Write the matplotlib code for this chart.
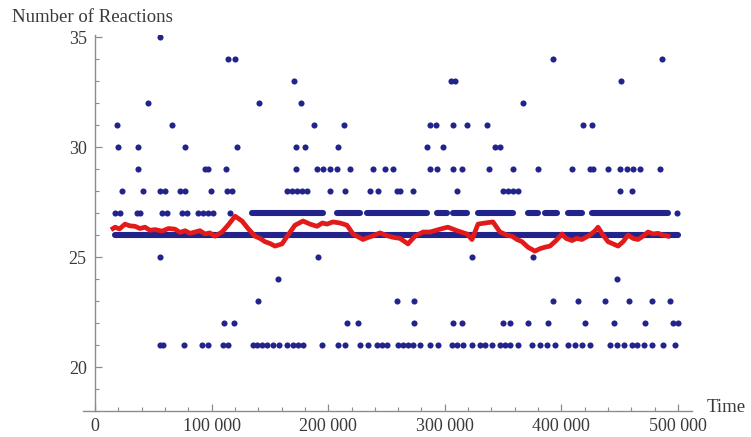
import matplotlib
matplotlib.use("Agg")
import matplotlib.pyplot as plt
from matplotlib.ticker import MultipleLocator, FuncFormatter

# sampled reaction counts: each list holds the times at which that count was seen
t35 = [55700]
t34 = [114100, 120100, 392800, 486300]
t33 = [170700, 305300, 308700, 451100]
t32 = [45500, 140600, 176700, 367000]
t31 = [18900, 66000, 187800, 213500, 287300, 292400, 307000, 319000, 336200,
       418500, 426200]
t30 = [19700, 36900, 77200, 121800, 172400, 180100, 208400, 284700, 298400,
       343000, 347300]
t29 = [36900, 94300, 96900, 112300, 172400, 190400, 195500, 201500, 207500,
       218700, 238400, 248700, 255600, 287300, 293300, 307000, 314700, 337900,
       358500, 380000, 409100, 424500, 427100, 440000, 450200, 456200, 461400,
       467400, 484500]
t28 = [23200, 41200, 55700, 60000, 72900, 77200, 99500, 113200, 117500, 164700,
       168900, 173200, 177500, 181800, 201500, 214400, 235800, 242700, 259000,
       261600, 272700, 310500, 349900, 354200, 358500, 362800, 450200, 460500]
t27 = [17200, 21400, 36000, 38600, 57500, 61700, 74600, 78900, 88300, 92600,
       96900, 101200, 115800, 499100]
runs27 = [(134600, 195500), (207500, 227300), (233300, 284700), (293300, 301900),
          (307000, 319000), (328500, 358500), (371300, 380000), (385900, 396200),
          (405700, 417600), (426200, 491400)]
runs26 = [(17000, 500000)]
t25 = [55700, 191300, 323300, 375600]
t24 = [157000, 447700]
t23 = [139800, 259000, 273600, 392800, 414200, 437400, 458000, 477700, 493100]
t22 = [110600, 119200, 216100, 225500, 273600, 307000, 314700, 350000, 356000,
       371300, 388500, 420200, 445000, 471700, 496000, 500000]
t21 = [55700, 58300, 76300, 91800, 96900, 109800, 114100, 135500, 138900,
       143200, 147500, 152700, 157800, 164700, 169800, 174100, 178400, 194700,
       208400, 214400, 227300, 234100, 241800, 246100, 250400, 259900, 264100,
       268400, 272700, 278700, 287300, 294200, 306200, 310500, 315600, 323300,
       330200, 334500, 340500, 347300, 351600, 356000, 362800, 374800, 381600,
       387600, 394500, 405700, 411600, 417600, 424500, 441700, 447700, 453700,
       460500, 464800, 470800, 477700, 487100, 497400]

# running average (red)
avg_t = [15400, 17200, 21000, 25700, 30000, 34300, 38500, 42900, 47000, 51500,
         57500, 63000, 68600, 73000, 77200, 81500, 85800, 90000, 94300, 98500,
         102900, 108900, 114100, 120100, 126100, 131200, 137200, 141500, 145800,
         150000, 154400, 160400, 165500, 171500, 178400, 184400, 190400, 195000,
         199000, 204100, 210100, 216100, 221300, 229800, 233500, 237600, 244400,
         250000, 255600, 261600, 268400, 274400, 281300, 287300, 293300, 298000,
         302700, 310500, 319000, 323300, 328500, 334500, 341300, 347300, 353300,
         357600, 361900, 366200, 371300, 377300, 381500, 385900, 390200, 395400,
         400500, 404000, 409100, 413000, 417600, 424500, 428900, 431400, 435700,
         440000, 444300, 448600, 452900, 457200, 461400, 465700, 470000, 474300,
         478600, 482900, 487100, 491400]
avg_v = [26.3, 26.36, 26.28, 26.5, 26.42, 26.4, 26.3, 26.36, 26.22, 26.25,
         26.18, 26.3, 26.27, 26.12, 26.2, 26.08, 26.14, 26.2, 26.05, 26.1,
         25.95, 26.14, 26.45, 26.86, 26.64, 26.3, 25.95, 25.85, 25.7,
         25.62, 25.5, 25.6, 26.0, 26.45, 26.64, 26.5, 26.4, 26.55,
         26.5, 26.6, 26.55, 26.45, 26.05, 25.8, 25.88, 25.95, 26.1,
         25.98, 25.9, 25.85, 25.6, 25.95, 26.14, 26.14, 26.23, 26.3,
         26.36, 26.2, 26.05, 25.8, 26.5, 26.55, 26.6, 26.14, 26.0,
         25.95, 25.8, 25.7, 25.45, 25.27, 25.38, 25.45, 25.5, 25.75,
         26.05, 25.85, 25.75, 25.85, 25.8, 26.0, 26.2, 26.36, 26.0,
         25.7, 25.6, 25.5, 25.7, 26.0, 25.85, 25.8, 25.95, 26.14,
         26.05, 26.08, 26.0, 25.95]

singles = [(35, t35), (34, t34), (33, t33), (32, t32), (31, t31), (30, t30),
           (29, t29), (28, t28), (27, t27), (25, t25), (24, t24), (23, t23),
           (22, t22), (21, t21)]
runs = [(27, runs27), (26, runs26)]

DOT = '#23238c'
AXIS = '#8c8c8c'
TXT = '#3a3a3a'
SERIF = ['Liberation Serif', 'DejaVu Serif']
dot_pt = 4.4

fig = plt.figure(figsize=(7.51, 4.37), dpi=100)
ax = fig.add_axes([83 / 751, 1 - 411 / 437, (692 - 83) / 751, (411 - 35) / 437])

for level, times in singles:
    ax.scatter(times, [level] * len(times), s=dot_pt ** 2, color=DOT,
               linewidths=0, zorder=2)
for level, segs in runs:
    lc = ax.hlines([level] * len(segs), [a for a, b in segs], [b for a, b in segs],
                   colors=DOT, linewidth=dot_pt, zorder=2)
    lc.set_capstyle('round')

ax.plot(avg_t, avg_v, color='#e31a1a', lw=3.4, solid_joinstyle='round', zorder=3)

ax.set_xlim(-10300, 512000)
ax.set_ylim(18.0, 35.1)

for s in ('top', 'right'):
    ax.spines[s].set_visible(False)
ax.spines['left'].set_position(('data', 0))
for s in ('left', 'bottom'):
    ax.spines[s].set_color(AXIS)
    ax.spines[s].set_linewidth(1.0)

ax.xaxis.set_major_locator(MultipleLocator(100000))
ax.xaxis.set_minor_locator(MultipleLocator(20000))
ax.yaxis.set_minor_locator(MultipleLocator(1))
ax.set_yticks([20, 25, 30, 35])


def fmt_x(v, pos):
    v = int(round(v))
    if v == 0:
        return '0'
    return f'{v:,}'.replace(',', ' ')


ax.xaxis.set_major_formatter(FuncFormatter(fmt_x))
ax.tick_params(which='major', direction='in', length=5, width=0.9, color=AXIS,
               labelsize=13, labelcolor=TXT)
ax.tick_params(which='minor', direction='in', length=3, width=0.8, color=AXIS)
ax.tick_params(axis='x', which='major', pad=5)
ax.tick_params(axis='y', which='major', pad=6)
for lab in ax.get_xticklabels() + ax.get_yticklabels():
    lab.set_family(SERIF)

fig.text(12 / 751, 1 - 22 / 437, 'Number of Reactions', family=SERIF,
         fontsize=13.5, color=TXT, va='baseline', ha='left')
fig.text(707 / 751, 1 - 408 / 437, 'Time', family=SERIF, fontsize=13.5,
         color=TXT, va='center', ha='left')

fig.savefig('out.png', dpi=100)
